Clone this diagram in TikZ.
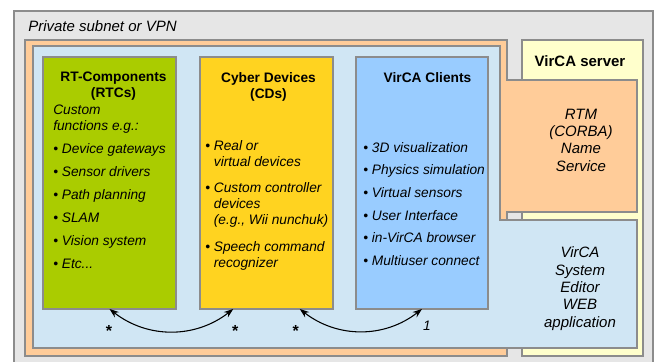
\documentclass[tikz,border=0pt]{standalone}
\usepackage{fontspec}
\setmainfont{Liberation Sans}
\usetikzlibrary{arrows.meta,calc}

\definecolor{netgray}{HTML}{E6E6E6}
\definecolor{edgegray}{HTML}{8C8C8C}
\definecolor{srvorange}{HTML}{FFCC99}
\definecolor{srvyellow}{HTML}{FFFFCC}
\definecolor{appblue}{HTML}{D0E6F4}
\definecolor{rtcgreen}{HTML}{AACC00}
\definecolor{cdyellow}{HTML}{FFD320}
\definecolor{cliblue}{HTML}{99CCFF}

\newcommand{\bodyfont}{\fontsize{10.3}{12}\selectfont\itshape}
\newcommand{\bigfont}{\fontsize{11.25}{13}\selectfont}
\newcommand{\indentcont}{\hphantom{•\ }}

\begin{document}
\begin{tikzpicture}[%
      x=0.75pt, y=0.75pt,
      area/.style={draw=edgegray, line width=0.8pt},
      unitbox/.style={area, anchor=north west, inner sep=0pt, outer sep=0pt,
        minimum width=99.75pt, minimum height=189pt},
      boxtitle/.style={anchor=north, inner sep=0pt, align=center,
        font=\fontsize{10.3}{12}\selectfont\bfseries},
      boxtext/.style={anchor=north west, inner sep=0pt, align=left,
        font=\bodyfont},
      conn/.style={draw=black, line width=0.8pt,
        {Stealth[length=7pt,width=5pt]}-{Stealth[length=7pt,width=5pt]}},
      mult/.style={inner sep=0pt, font=\bodyfont},
      many/.style={inner sep=0pt, font=\fontsize{12}{14}\selectfont\bfseries},
      ]
      \clip (0,0) rectangle (657,361);

      % subnet background
      \draw [area, fill=netgray] (14,-5) rectangle (653,350);
      \node [anchor=base west, inner sep=0pt, font=\bigfont\itshape] (vpn) at (28,329.5) {Private subnet or VPN};

      % server side
      \draw [area, fill=srvyellow] (522,321) rectangle (643,5);
      \draw [area, fill=srvorange] (25,321) -- (507,321) -- (507,281) -- (637,281)
            -- (637,149) -- (507,149) -- (507,5) -- (25,5) -- cycle;
      \draw [area, fill=appblue] (33,315) -- (500,315) -- (500,141) -- (637,141)
            -- (637,13) -- (33,13) -- cycle;

      \node [anchor=base, inner sep=0pt, font=\bigfont\bfseries] (srv) at (580,294.5) {VirCA server};
      \node [anchor=north, inner sep=0pt, align=center, font=\bigfont\itshape] (rtm) at (581,252.5)
            {RTM\\(CORBA)\\Name\\Service};
      \node [anchor=north, inner sep=0pt, align=center, font=\bigfont\itshape] (editor) at (580,114.4)
            {VirCA\\System\\Editor\\WEB\\application};

      % the three client side parts
      \node [unitbox, fill=rtcgreen] (rtc) at (43,304) {};
      \node [unitbox, fill=cdyellow] (cd) at (200,304) {};
      \node [unitbox, fill=cliblue, minimum width=99pt] (cli) at (356,304) {};

      \node [boxtitle] (rtc title) at (113.5,289) {RT-Components\\(RTCs)};
      \node [boxtitle] (cd title) at (268.5,289) {Cyber Devices\\(CDs)};
      \node [boxtitle] (cli title) at (427.5,289) {VirCA Clients};

      \node [boxtext] (rtc list) at (53,256) {Custom\\functions e.g.:\\[5.2pt]%
            • Device gateways\\[5.2pt]• Sensor drivers\\[5.2pt]• Path planning\\[5.2pt]%
            • SLAM\\[5.2pt]• Vision system\\[5.2pt]• Etc...};
      \node [boxtext] (cd list) at (205,221) {• Real or\\\indentcont virtual devices\\[8pt]%
            • Custom controller\\\indentcont devices\\\indentcont (e.g., Wii nunchuk)\\[8pt]%
            • Speech command\\\indentcont recognizer};
      \node [boxtext] (cli list) at (363,219) {• 3D visualization\\[5pt]• Physics simulation\\[5pt]%
            • Virtual sensors\\[5pt]• User Interface\\[5pt]• in-VirCA browser\\[5pt]%
            • Multiuser connect};

      % associations
      \coordinate (cd in) at ($(cd.south)!0.5!(cd.south west)$);
      \coordinate (cd out) at ($(cd.south)!0.5!(cd.south east)$);
      \draw [conn] (rtc.south) to [bend right=38] (cd in);
      \draw [conn] (cd out) to [bend right=38] (cli.south);

      \node [many] (m1) at ([shift={(-0.5,-22)}]rtc.south) {*};
      \node [many] (m2) at ([shift={(2,-22)}]cd in) {*};
      \node [many] (m3) at ([shift={(-4,-22)}]cd out) {*};
      \node [mult] (m4) at ([shift={(5,-17)}]cli.south) {1};
\end{tikzpicture}
\end{document}
